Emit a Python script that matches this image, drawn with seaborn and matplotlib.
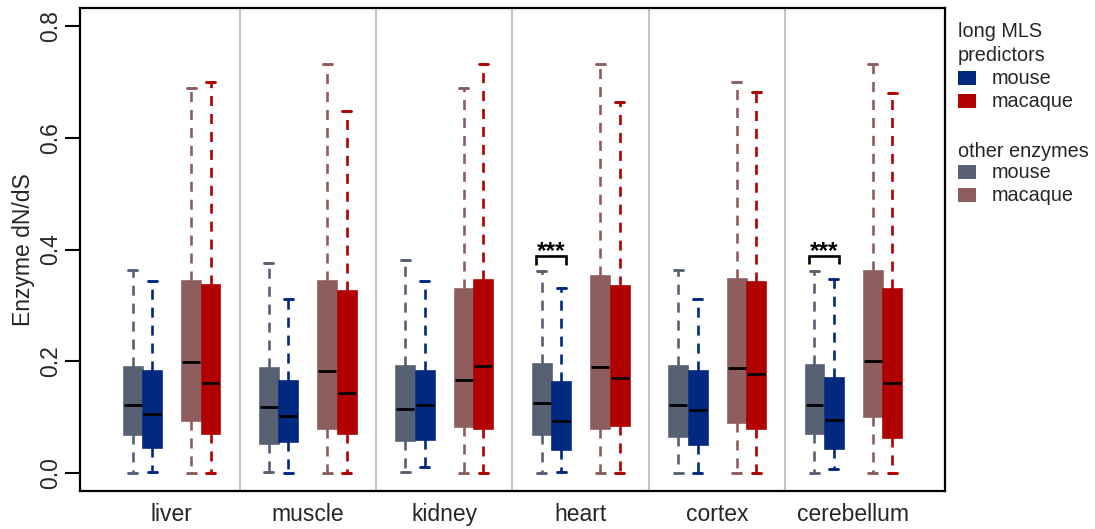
import numpy as np
import pandas as pd
import matplotlib
matplotlib.use("Agg")
import matplotlib.pyplot as plt
from matplotlib.patches import Rectangle
import seaborn as sns

tissues = ["liver", "muscle", "kidney", "heart", "cortex", "cerebellum"]

# Five-number summaries per tissue: lower whisker, Q1, median, Q3, upper whisker
other_mouse = [
    [0.000, 0.069, 0.122, 0.190, 0.363],
    [0.002, 0.054, 0.118, 0.187, 0.376],
    [0.002, 0.058, 0.114, 0.192, 0.382],
    [0.000, 0.069, 0.126, 0.195, 0.361],
    [0.000, 0.066, 0.121, 0.192, 0.363],
    [0.000, 0.072, 0.122, 0.193, 0.362],
]
predictor_mouse = [
    [0.002, 0.047, 0.106, 0.182, 0.344],
    [0.000, 0.057, 0.101, 0.165, 0.312],
    [0.010, 0.060, 0.122, 0.182, 0.344],
    [0.002, 0.042, 0.092, 0.162, 0.331],
    [0.000, 0.051, 0.113, 0.182, 0.312],
    [0.007, 0.045, 0.094, 0.170, 0.347],
]
other_macaque = [
    [0.000, 0.094, 0.198, 0.343, 0.690],
    [0.000, 0.080, 0.183, 0.343, 0.733],
    [0.000, 0.084, 0.166, 0.330, 0.690],
    [0.000, 0.080, 0.190, 0.353, 0.733],
    [0.000, 0.091, 0.188, 0.348, 0.701],
    [0.000, 0.101, 0.201, 0.362, 0.733],
]
predictor_macaque = [
    [0.000, 0.071, 0.161, 0.337, 0.701],
    [0.000, 0.071, 0.143, 0.326, 0.649],
    [0.000, 0.081, 0.191, 0.345, 0.733],
    [0.000, 0.085, 0.170, 0.335, 0.664],
    [0.000, 0.080, 0.177, 0.341, 0.683],
    [0.000, 0.065, 0.161, 0.330, 0.681],
]

# Tissues where mouse predictors differ significantly from other mouse enzymes
significant = ["heart", "cerebellum"]
sig_label = "***"

y_ticks = [0.0, 0.2, 0.4, 0.6, 0.8]
y_tick_labels = ["0.0", "0.2", "0.4", "0.6", "0.8"]

series_names = ["other mouse", "predictor mouse", "other macaque", "predictor macaque"]
series_data = [other_mouse, predictor_mouse, other_macaque, predictor_macaque]
series_colors = ["#586074", "#00297F", "#8E5D5D", "#B00000"]
series_slots = [1, 2, 4, 5]  # slot of each series inside a tissue block
block = 7                    # slots per tissue block

# Long table: each summary value becomes one observation, so that the
# (0, 100) percentile whiskers and quartiles reproduce the summary exactly.
rows = []
for name, summ, slot in zip(series_names, series_data, series_slots):
    for i, tissue in enumerate(tissues):
        for v in summ[i]:
            rows.append({"series": name, "tissue": tissue,
                         "pos": i * block + slot, "dNdS": v})
df = pd.DataFrame(rows)

sns.set_theme(style="white")
plt.rcParams["font.family"] = ["Liberation Sans", "DejaVu Sans"]

W, H = 1095, 529
fig = plt.figure(figsize=(W / 100, H / 100), dpi=100)
ax_l, ax_r, ax_t, ax_b = 80, 945, 8.4, 490.7
ax = fig.add_axes([ax_l / W, 1 - ax_b / H, (ax_r - ax_l) / W, (ax_b - ax_t) / H])

dash = (0, (3.8, 3.0))
for name, color in zip(series_names, series_colors):
    sub = df[df["series"] == name]
    sns.boxplot(
        data=sub, x="pos", y="dNdS", native_scale=True, ax=ax,
        color=color, linecolor=color, saturation=1,
        width=0.92 / block, whis=(0, 100), showfliers=False, linewidth=1.9,
        medianprops=dict(color="black", linewidth=2.0),
        whiskerprops=dict(linestyle=dash, linewidth=1.9),
        capprops=dict(linewidth=2.1),
    )

# Grey separators between tissue blocks
for i in range(1, len(tissues)):
    ax.axvline(i * block - 0.5, color="#C4C4C4", lw=1.5, zorder=0)

# Significance brackets between the two mouse boxes
for tissue in significant:
    i = tissues.index(tissue)
    x0 = i * block + series_slots[0] - 0.27
    x1 = i * block + series_slots[1] + 0.27
    top = max(other_mouse[i][4], predictor_mouse[i][4]) + 0.027
    ax.plot([x0, x0, x1, x1], [top - 0.015, top, top, top - 0.015],
            color="black", lw=1.9, solid_capstyle="butt", solid_joinstyle="miter")
    ax.text((x0 + x1) / 2, top - 0.004, sig_label, ha="center", va="baseline",
            fontsize=17.5, fontweight="bold", color="black")

centers = [i * block + 3 for i in range(len(tissues))]
ax.set_xlim(centers[0] - 4.7, centers[-1] + 4.7)
ax.set_ylim(-0.032, 0.832)
ax.set_xticks(centers)
ax.set_xticklabels(tissues, fontsize=16.5)
ax.set_yticks(y_ticks)
ax.set_yticklabels(y_tick_labels, fontsize=16.5, rotation=90)
for lab in ax.get_yticklabels():
    lab.set_va("center")
ax.tick_params(axis="x", length=0, pad=9)
ax.tick_params(axis="y", left=True, length=10.8, width=1.5, pad=2.4, color="black")
ax.set_xlabel("")
ax.set_ylabel("")
for s in ax.spines.values():
    s.set_color("black")
    s.set_linewidth(1.6)

fig.text(23.6 / W, 1 - 249.5 / H, "Enzyme dN/dS", rotation=90,
         ha="center", va="center", fontsize=16.5)

# Legend, drawn in figure pixel coordinates
leg_fs = 14.3
head_x, item_x, sq_x, sq_w, sq_h = 957.7, 991.7, 958.3, 17.3, 14.0
legend_rows = [
    ("head", "long MLS", 37.3, None),
    ("head", "predictors", 60.7, None),
    ("item", "mouse", 84.0, series_colors[1]),
    ("item", "macaque", 106.7, series_colors[3]),
    ("head", "other enzymes", 156.7, None),
    ("item", "mouse", 178.0, series_colors[0]),
    ("item", "macaque", 200.7, series_colors[2]),
]
for kind, label, base, color in legend_rows:
    x = head_x if kind == "head" else item_x
    fig.text(x / W, 1 - base / H, label, ha="left", va="baseline", fontsize=leg_fs)
    if color is not None:
        fig.patches.append(Rectangle((sq_x / W, 1 - (base + 1) / H), sq_w / W, sq_h / H,
                                     transform=fig.transFigure, facecolor=color,
                                     edgecolor="none"))

fig.savefig("out.png", dpi=100)
